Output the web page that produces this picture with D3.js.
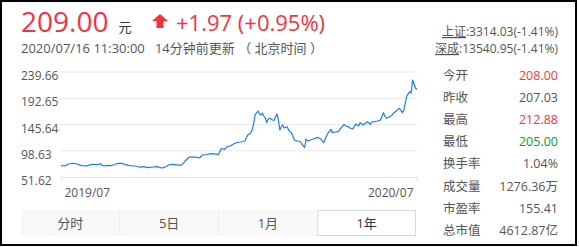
<!DOCTYPE html>
<html>
<head>
<meta charset="utf-8" />
<script src="https://cdn.jsdelivr.net/npm/d3@7"></script>
<style>
body { margin: 0; background: #fff; }
svg { display: block; font-family: "Open Sans", "Noto Sans CJK SC", sans-serif; }
</style>
</head>
<body>
<svg id="chart" width="579" height="247"></svg>
<script>
// trading day index (0 = 2019/07/16) and close price
var days = [0,3,5,8,11,14,18,21,25,27,29,32,34,36,39,42,44,47,51,54,56,60,63,66,69,71,75,78,82,84,
  85,88,92,95,97,100,103,108,110,112,114,116,117,119,121,123,125,126,128,130,131,132,133,135,136,137,
  138,139,140,141,142,143,145,146,147,148,149,150,151,152,153,155,156,157,158,160,162,164,165,167,
  168,169,171,173,174,176,178,180,182,183,185,186,188,190,192,194,195,197,198,200,202,204,205,207,
  210,212,213,215,217,219,221,222,223,225,227,228,230,232,234,235,237,238,239,240,241,243,244];
var prices = [71.9,71.3,74.9,76.2,74.9,71.9,71.5,74.4,73.7,75.4,71.3,72.6,71.9,73.1,76.2,75.9,73.7,71.9,71.3,69.0,
  70.1,68.3,69.5,70.1,67.7,69.0,74.4,73.7,72.6,76.2,
  80.3,87.4,87.2,85.7,91.0,91.9,93.4,92.3,103.0,100.9,105.9,107.1,108.9,111.6,113.8,114.3,115.2,116.1,126.8,130.4,135.8,146.5,
  162.7,169.8,164.5,162.7,166.2,160.9,157.3,148.9,155.5,156.8,153.7,152.9,159.1,164.5,153.7,135.8,141.2,144.8,139.4,141.7,
  135.8,132.8,130.4,117.9,116.1,114.8,110.7,104.8,119.7,116.1,117.9,119.7,120.9,122.7,119.7,113.1,125.1,130.4,137.1,131.0,
  132.2,132.8,139.4,146.0,143.0,141.7,139.4,137.6,146.5,143.0,148.9,144.8,150.7,146.0,150.1,150.7,151.9,153.7,166.8,160.9,
  156.8,159.1,162.7,166.2,170.4,174.7,166.8,171.6,197.2,200.3,204.4,202.1,225.3,210.5,209.0];
var yTicks = [51.62, 98.63, 145.64, 192.65, 239.66];
var xLabels = ["2019/07", "2020/07"];

var statLabels = ["今开", "昨收", "最高", "最低", "换手率", "成交量", "市盈率", "总市值"];
var statValues = ["208.00", "207.03", "212.88", "205.00", "1.04%", "1276.36万", "155.41", "4612.87亿"];
var statColors = ["#f5333f", "#555", "#f5333f", "#0a9b1a", "#555", "#555", "#555", "#555"];
var tabs = ["分时", "5日", "1月", "1年"];
var indexNames = ["上证", "深成"];
var indexValues = [":3314.03(-1.41%)", ":13540.95(-1.41%)"];

var svg = d3.select("#chart");
var red = "#f5333f";

// frame
svg.append("rect").attr("x", 1).attr("y", 1).attr("width", 575).attr("height", 244)
  .attr("fill", "#fff").attr("stroke", "#000").attr("stroke-width", 2);

// header
var head = svg.append("text").attr("x", 21).attr("y", 32);
head.append("tspan").attr("font-size", 28).attr("fill", red).text("209.00");
head.append("tspan").attr("dx", 10).attr("font-size", 13).attr("fill", "#333").text("元");
svg.append("path").attr("d", "M160,14 L168,21 L163.5,21 L163.5,28 L156.5,28 L156.5,21 L152,21 Z").attr("fill", red);
svg.append("text").attr("x", 176).attr("y", 31).attr("font-size", 22).attr("fill", red).text("+1.97 (+0.95%)");
svg.append("text").attr("x", 21).attr("y", 53).attr("font-size", 13).attr("fill", "#555")
  .attr("xml:space", "preserve").text("2020/07/16 11:30:00   14分钟前更新 （ 北京时间 ）");

indexNames.forEach(function(n, i) {
  var t = svg.append("text").attr("x", 558).attr("y", 36 + i * 17).attr("text-anchor", "end")
    .attr("font-size", 12).attr("fill", "#555");
  t.append("tspan").attr("text-decoration", "underline").text(n);
  t.append("tspan").text(indexValues[i]);
});

// chart
var x = d3.scaleLinear().domain([0, d3.max(days)]).range([61, 417]);
var y = d3.scaleLinear().domain([51.62, 239.66]).range([177, 72]);

svg.append("g").selectAll("line").data(yTicks.slice(1)).join("line")
  .attr("x1", 60).attr("x2", 417).attr("y1", function(d) { return y(d); }).attr("y2", function(d) { return y(d); })
  .attr("stroke", "#e8e8e8").attr("stroke-width", 1);

var xAxis = svg.append("g").attr("transform", "translate(0," + y(51.62) + ")")
  .call(d3.axisBottom(x).tickValues([0, d3.max(days)]).tickSize(4).tickFormat(function(d, i) { return xLabels[i]; }));
xAxis.select(".domain").attr("stroke", "#e3e3e3");
xAxis.selectAll(".tick line").attr("stroke", "#e3e3e3");
xAxis.selectAll(".tick text").attr("font-size", 12).attr("fill", "#555").attr("dy", "1.05em")
  .attr("font-family", "\"Open Sans\", sans-serif")
  .attr("text-anchor", function(d, i) { return i == 0 ? "start" : "end"; })
  .attr("dx", function(d, i) { return i == 0 ? 3 : -4; });

svg.append("g").selectAll("text").data(yTicks).join("text")
  .attr("x", 21).attr("y", function(d) { return y(d) + 8; })
  .attr("font-size", 12).attr("fill", "#555").text(function(d) { return d.toFixed(2); });

var line = d3.line().x(function(d, i) { return x(days[i]); }).y(function(d) { return y(d); });
svg.append("path").datum(prices).attr("d", line)
  .attr("fill", "none").attr("stroke", "#1a7cf5").attr("stroke-width", 1.2).attr("stroke-linejoin", "round");

// stats panel
statLabels.forEach(function(s, i) {
  var yy = 80 + i * 22.1;
  svg.append("text").attr("x", 443).attr("y", yy).attr("font-size", 12.5).attr("fill", "#555").text(s);
  svg.append("text").attr("x", 558).attr("y", yy).attr("text-anchor", "end").attr("font-size", 12.5)
    .attr("fill", statColors[i]).text(statValues[i]);
});

// tabs
var tabX = d3.scaleBand().domain(tabs).range([21, 416]);
tabs.forEach(function(t, i) {
  var sel = i == tabs.length - 1;
  svg.append("rect").attr("x", tabX(t) + 0.5).attr("y", 210.5).attr("width", tabX.bandwidth() - 1).attr("height", 25)
    .attr("fill", sel ? "#fff" : "#f8f8f8").attr("stroke", sel ? "#d9d9d9" : "#f8f8f8");
  if (i > 0 && !sel) svg.append("line").attr("x1", tabX(t)).attr("x2", tabX(t)).attr("y1", 210).attr("y2", 236)
    .attr("stroke", "#ececec");
  svg.append("text").attr("x", tabX(t) + tabX.bandwidth() / 2).attr("y", 228).attr("text-anchor", "middle")
    .attr("font-size", 13).attr("fill", sel ? "#333" : "#555").text(t);
});
</script>
</body>
</html>
